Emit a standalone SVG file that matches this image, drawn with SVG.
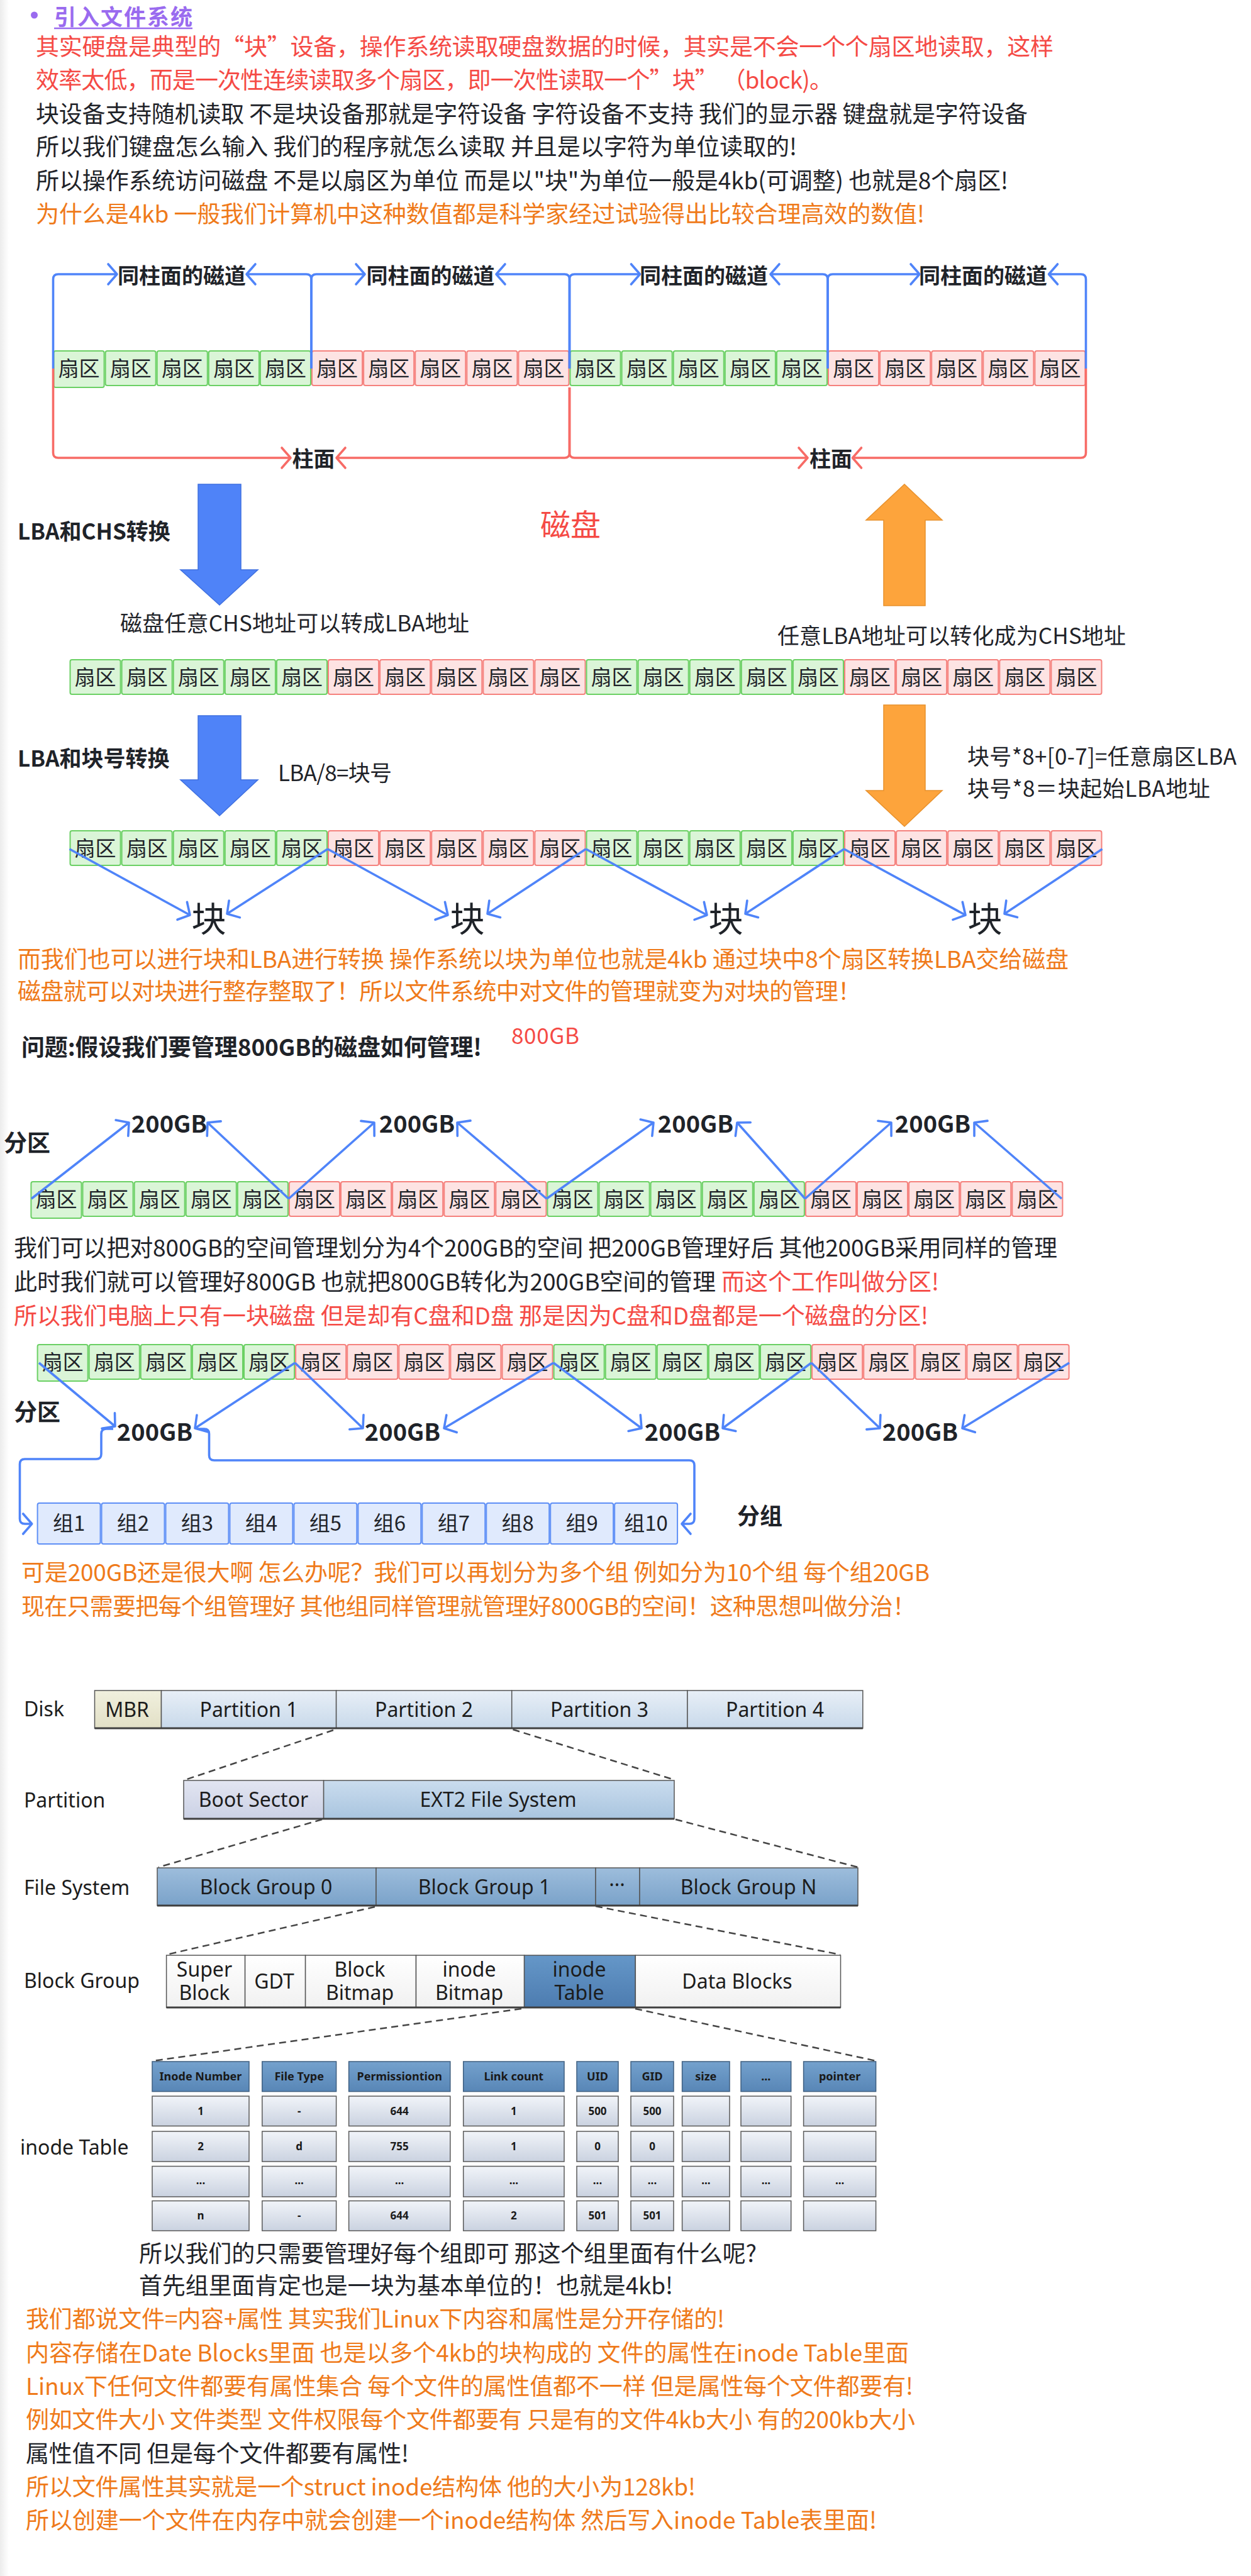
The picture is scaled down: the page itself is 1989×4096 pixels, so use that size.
<svg xmlns="http://www.w3.org/2000/svg" width="1989" height="4096" viewBox="0 0 1989 4096">
<defs>
<style>
.t{font-family:"Noto Sans CJK SC","Noto Sans",sans-serif}
.b37{font-size:37px}
.red{fill:#f54a45}.blk{fill:#1f2329}.org{fill:#ef7a1a}.pur{fill:#9a6bef}
.bold{font-weight:bold}
.sc{font-family:"Noto Sans CJK SC",sans-serif;font-size:33px;text-anchor:middle;fill:#1f2329}
.cg{fill:#daf5d7;stroke:#6bd064;stroke-width:2}
.cr{fill:#fde3e3;stroke:#f5817d;stroke-width:2}
.cbx{fill:#e0eafd;stroke:#5e8ff6;stroke-width:2}
.bl{fill:none;stroke:#4f84f9;stroke-width:3.6;stroke-linejoin:round}
.rl{fill:none;stroke:#f76b66;stroke-width:3.6;stroke-linejoin:round}
.en{font-family:"Noto Sans","Open Sans",sans-serif;font-size:32px;fill:#1c1c1c}
.ec{text-anchor:middle}
.bx{stroke:#555;stroke-width:1.5}
.dash{fill:none;stroke:#444;stroke-width:2.5;stroke-dasharray:11 7}
.th{font-family:"Noto Sans","Open Sans",sans-serif;font-size:18px;font-weight:bold;fill:#1a1a1a;text-anchor:middle}
.tv{font-family:"Noto Sans","Open Sans",sans-serif;font-size:17px;font-weight:bold;fill:#1a1a1a;text-anchor:middle}
.hc{fill:url(#gHead);stroke:#3f5f80;stroke-width:1.5}
.vc{fill:url(#gCell);stroke:#5a5a5a;stroke-width:1.5}
</style>
<marker id="mb" viewBox="-18 -20 24 40" markerWidth="24" markerHeight="40" refX="0" refY="0" orient="auto" markerUnits="userSpaceOnUse" overflow="visible"><path d="M-14,-16 L0,0 L-14,16" fill="none" stroke="#4f84f9" stroke-width="3.6" stroke-linecap="round" stroke-linejoin="round"/></marker>
<marker id="mr" viewBox="-18 -20 24 40" markerWidth="24" markerHeight="40" refX="0" refY="0" orient="auto" markerUnits="userSpaceOnUse" overflow="visible"><path d="M-14,-16 L0,0 L-14,16" fill="none" stroke="#f76b66" stroke-width="3.6" stroke-linecap="round" stroke-linejoin="round"/></marker>
<linearGradient id="gLeft" x1="0" x2="1" y1="0" y2="0"><stop offset="0" stop-color="#ececec"/><stop offset="1" stop-color="#ffffff"/></linearGradient>
<linearGradient id="gDisk" x1="0" x2="0" y1="0" y2="1"><stop offset="0" stop-color="#e8eff7"/><stop offset="1" stop-color="#c8d9ea"/></linearGradient>
<linearGradient id="gMBR" x1="0" x2="0" y1="0" y2="1"><stop offset="0" stop-color="#f1f0de"/><stop offset="1" stop-color="#e2e0c6"/></linearGradient>
<linearGradient id="gBoot" x1="0" x2="0" y1="0" y2="1"><stop offset="0" stop-color="#e2e5f1"/><stop offset="1" stop-color="#cbd1e5"/></linearGradient>
<linearGradient id="gExt" x1="0" x2="0" y1="0" y2="1"><stop offset="0" stop-color="#cadcee"/><stop offset="1" stop-color="#a9c5df"/></linearGradient>
<linearGradient id="gFS" x1="0" x2="0" y1="0" y2="1"><stop offset="0" stop-color="#9dbddc"/><stop offset="1" stop-color="#7aa2c9"/></linearGradient>
<linearGradient id="gWhite" x1="0" x2="0" y1="0" y2="1"><stop offset="0" stop-color="#ffffff"/><stop offset="1" stop-color="#f1f1f1"/></linearGradient>
<linearGradient id="gIT" x1="0" x2="0" y1="0" y2="1"><stop offset="0" stop-color="#6597c8"/><stop offset="1" stop-color="#4d7cb0"/></linearGradient>
<linearGradient id="gHead" x1="0" x2="0" y1="0" y2="1"><stop offset="0" stop-color="#74a1cd"/><stop offset="1" stop-color="#5886b6"/></linearGradient>
<linearGradient id="gCell" x1="0" x2="0" y1="0" y2="1"><stop offset="0" stop-color="#f1f4f9"/><stop offset="1" stop-color="#cad2e0"/></linearGradient>
</defs>
<rect x="0" y="0" width="1989" height="4096" fill="#ffffff"/>
<rect x="0" y="0" width="14" height="4096" fill="url(#gLeft)"/>

<g id="intro-text">
<circle cx="54.5" cy="24" r="5.5" fill="#9a6bef"/>
<text class="t pur bold" x="86" y="40" font-size="35" textLength="220" lengthAdjust="spacing">引入文件系统</text>
<line x1="86" y1="45" x2="306" y2="45" stroke="#9a6bef" stroke-width="2.5"/>
<text class="t b37 red" x="57" y="88" textLength="1618" lengthAdjust="spacing">其实硬盘是典型的“块”设备，操作系统读取硬盘数据的时候，其实是不会一个个扇区地读取，这样</text>
<text class="t b37 red" x="57" y="141" textLength="1267" lengthAdjust="spacing">效率太低，而是一次性连续读取多个扇区，即一次性读取一个”块” （block)。</text>
<text class="t b37 blk" x="57" y="194.5" textLength="1577" lengthAdjust="spacing">块设备支持随机读取 不是块设备那就是字符设备 字符设备不支持 我们的显示器 键盘就是字符设备</text>
<text class="t b37 blk" x="57" y="247" textLength="1210" lengthAdjust="spacing">所以我们键盘怎么输入 我们的程序就怎么读取 并且是以字符为单位读取的!</text>
<text class="t b37 blk" x="57" y="300.5" textLength="1546" lengthAdjust="spacing">所以操作系统访问磁盘 不是以扇区为单位 而是以"块"为单位一般是4kb(可调整) 也就是8个扇区!</text>
<text class="t b37 org" x="57" y="354" textLength="1413" lengthAdjust="spacing">为什么是4kb 一般我们计算机中这种数值都是科学家经过试验得出比较合理高效的数值!</text>
</g>

<g id="sector-row-1" transform="translate(84.5,558)">
<rect class="cg" x="1" y="0" width="80.1" height="58" rx="3"/><text class="sc" x="41.1" y="40">扇区</text>
<rect class="cg" x="83.1" y="0" width="80.1" height="55" rx="3"/><text class="sc" x="123.2" y="40">扇区</text>
<rect class="cg" x="165.2" y="0" width="80.1" height="55" rx="3"/><text class="sc" x="205.3" y="40">扇区</text>
<rect class="cg" x="247.3" y="0" width="80.1" height="55" rx="3"/><text class="sc" x="287.4" y="40">扇区</text>
<rect class="cg" x="329.4" y="0" width="80.1" height="55" rx="3"/><text class="sc" x="369.5" y="40">扇区</text>
<rect class="cr" x="411.5" y="0" width="80.1" height="55" rx="3"/><text class="sc" x="451.6" y="40">扇区</text>
<rect class="cr" x="493.6" y="0" width="80.1" height="55" rx="3"/><text class="sc" x="533.7" y="40">扇区</text>
<rect class="cr" x="575.7" y="0" width="80.1" height="55" rx="3"/><text class="sc" x="615.8" y="40">扇区</text>
<rect class="cr" x="657.8" y="0" width="80.1" height="55" rx="3"/><text class="sc" x="697.9" y="40">扇区</text>
<rect class="cr" x="739.9" y="0" width="80.1" height="55" rx="3"/><text class="sc" x="780" y="40">扇区</text>
<rect class="cg" x="822" y="0" width="80.1" height="55" rx="3"/><text class="sc" x="862.1" y="40">扇区</text>
<rect class="cg" x="904.1" y="0" width="80.1" height="55" rx="3"/><text class="sc" x="944.2" y="40">扇区</text>
<rect class="cg" x="986.2" y="0" width="80.1" height="55" rx="3"/><text class="sc" x="1026.3" y="40">扇区</text>
<rect class="cg" x="1068.3" y="0" width="80.1" height="55" rx="3"/><text class="sc" x="1108.4" y="40">扇区</text>
<rect class="cg" x="1150.4" y="0" width="80.1" height="55" rx="3"/><text class="sc" x="1190.5" y="40">扇区</text>
<rect class="cr" x="1232.5" y="0" width="80.1" height="55" rx="3"/><text class="sc" x="1272.6" y="40">扇区</text>
<rect class="cr" x="1314.6" y="0" width="80.1" height="55" rx="3"/><text class="sc" x="1354.7" y="40">扇区</text>
<rect class="cr" x="1396.7" y="0" width="80.1" height="55" rx="3"/><text class="sc" x="1436.8" y="40">扇区</text>
<rect class="cr" x="1478.8" y="0" width="80.1" height="55" rx="3"/><text class="sc" x="1518.9" y="40">扇区</text>
<rect class="cr" x="1560.9" y="0" width="80.1" height="55" rx="3"/><text class="sc" x="1601" y="40">扇区</text>
</g>

<g id="bracket-labels">
<text class="t bold blk" font-size="34" text-anchor="middle" x="289" y="451">同柱面的磁道</text>
<text class="t bold blk" font-size="34" text-anchor="middle" x="684.5" y="451">同柱面的磁道</text>
<text class="t bold blk" font-size="34" text-anchor="middle" x="1119" y="451">同柱面的磁道</text>
<text class="t bold blk" font-size="34" text-anchor="middle" x="1563" y="451">同柱面的磁道</text>
<text class="t bold blk" font-size="34" text-anchor="middle" x="498.5" y="742">柱面</text>
<text class="t bold blk" font-size="34" text-anchor="middle" x="1321" y="742">柱面</text>
</g>

<g id="lba-chs">
<text class="t bold blk" font-size="35" x="28" y="858">LBA和CHS转换</text>
<polygon points="315,770 383,770 383,906 410,906 349,962 287,906 315,906" fill="#4f83f8" stroke="#3f70e0" stroke-width="1.5"/>
<text class="t red" font-size="48" x="859" y="852">磁盘</text>
<polygon points="1438,770 1498,827 1471,827 1471,963 1405,963 1405,827 1377,827" fill="#fda43c" stroke="#e8912c" stroke-width="1.5"/>
<text class="t blk" font-size="35" x="191" y="1004" textLength="555" lengthAdjust="spacing">磁盘任意CHS地址可以转成LBA地址</text>
<text class="t blk" font-size="35" x="1236" y="1024" textLength="554" lengthAdjust="spacing">任意LBA地址可以转化成为CHS地址</text>
</g>

<g id="sector-row-2" transform="translate(110.5,1049)">
<rect class="cg" x="1" y="0" width="80.1" height="55" rx="3"/><text class="sc" x="41.1" y="40">扇区</text>
<rect class="cg" x="83.1" y="0" width="80.1" height="55" rx="3"/><text class="sc" x="123.2" y="40">扇区</text>
<rect class="cg" x="165.2" y="0" width="80.1" height="55" rx="3"/><text class="sc" x="205.3" y="40">扇区</text>
<rect class="cg" x="247.3" y="0" width="80.1" height="55" rx="3"/><text class="sc" x="287.4" y="40">扇区</text>
<rect class="cg" x="329.4" y="0" width="80.1" height="55" rx="3"/><text class="sc" x="369.5" y="40">扇区</text>
<rect class="cr" x="411.5" y="0" width="80.1" height="55" rx="3"/><text class="sc" x="451.6" y="40">扇区</text>
<rect class="cr" x="493.6" y="0" width="80.1" height="55" rx="3"/><text class="sc" x="533.7" y="40">扇区</text>
<rect class="cr" x="575.7" y="0" width="80.1" height="55" rx="3"/><text class="sc" x="615.8" y="40">扇区</text>
<rect class="cr" x="657.8" y="0" width="80.1" height="55" rx="3"/><text class="sc" x="697.9" y="40">扇区</text>
<rect class="cr" x="739.9" y="0" width="80.1" height="55" rx="3"/><text class="sc" x="780" y="40">扇区</text>
<rect class="cg" x="822" y="0" width="80.1" height="55" rx="3"/><text class="sc" x="862.1" y="40">扇区</text>
<rect class="cg" x="904.1" y="0" width="80.1" height="55" rx="3"/><text class="sc" x="944.2" y="40">扇区</text>
<rect class="cg" x="986.2" y="0" width="80.1" height="55" rx="3"/><text class="sc" x="1026.3" y="40">扇区</text>
<rect class="cg" x="1068.3" y="0" width="80.1" height="55" rx="3"/><text class="sc" x="1108.4" y="40">扇区</text>
<rect class="cg" x="1150.4" y="0" width="80.1" height="55" rx="3"/><text class="sc" x="1190.5" y="40">扇区</text>
<rect class="cr" x="1232.5" y="0" width="80.1" height="55" rx="3"/><text class="sc" x="1272.6" y="40">扇区</text>
<rect class="cr" x="1314.6" y="0" width="80.1" height="55" rx="3"/><text class="sc" x="1354.7" y="40">扇区</text>
<rect class="cr" x="1396.7" y="0" width="80.1" height="55" rx="3"/><text class="sc" x="1436.8" y="40">扇区</text>
<rect class="cr" x="1478.8" y="0" width="80.1" height="55" rx="3"/><text class="sc" x="1518.9" y="40">扇区</text>
<rect class="cr" x="1560.9" y="0" width="80.1" height="55" rx="3"/><text class="sc" x="1601" y="40">扇区</text>
</g>

<g id="lba-block">
<text class="t bold blk" font-size="35" x="28" y="1219">LBA和块号转换</text>
<polygon points="315,1138 383,1138 383,1240 410,1240 349,1297 287,1240 315,1240" fill="#4f83f8" stroke="#3f70e0" stroke-width="1.5"/>
<text class="t blk" font-size="35" x="442" y="1242" textLength="181" lengthAdjust="spacing">LBA/8=块号</text>
<polygon points="1405,1121 1471,1121 1471,1257 1498,1257 1438,1314 1377,1257 1405,1257" fill="#fda43c" stroke="#e8912c" stroke-width="1.5"/>
<text class="t blk" font-size="35" x="1538" y="1216" textLength="428" lengthAdjust="spacing">块号*8+[0-7]=任意扇区LBA</text>
<text class="t blk" font-size="35" x="1538" y="1267" textLength="386" lengthAdjust="spacing">块号*8＝块起始LBA地址</text>
</g>

<g id="sector-row-3" transform="translate(110.5,1321)">
<rect class="cg" x="1" y="0" width="80.1" height="55" rx="3"/><text class="sc" x="41.1" y="40">扇区</text>
<rect class="cg" x="83.1" y="0" width="80.1" height="55" rx="3"/><text class="sc" x="123.2" y="40">扇区</text>
<rect class="cg" x="165.2" y="0" width="80.1" height="55" rx="3"/><text class="sc" x="205.3" y="40">扇区</text>
<rect class="cg" x="247.3" y="0" width="80.1" height="55" rx="3"/><text class="sc" x="287.4" y="40">扇区</text>
<rect class="cg" x="329.4" y="0" width="80.1" height="55" rx="3"/><text class="sc" x="369.5" y="40">扇区</text>
<rect class="cr" x="411.5" y="0" width="80.1" height="55" rx="3"/><text class="sc" x="451.6" y="40">扇区</text>
<rect class="cr" x="493.6" y="0" width="80.1" height="55" rx="3"/><text class="sc" x="533.7" y="40">扇区</text>
<rect class="cr" x="575.7" y="0" width="80.1" height="55" rx="3"/><text class="sc" x="615.8" y="40">扇区</text>
<rect class="cr" x="657.8" y="0" width="80.1" height="55" rx="3"/><text class="sc" x="697.9" y="40">扇区</text>
<rect class="cr" x="739.9" y="0" width="80.1" height="55" rx="3"/><text class="sc" x="780" y="40">扇区</text>
<rect class="cg" x="822" y="0" width="80.1" height="55" rx="3"/><text class="sc" x="862.1" y="40">扇区</text>
<rect class="cg" x="904.1" y="0" width="80.1" height="55" rx="3"/><text class="sc" x="944.2" y="40">扇区</text>
<rect class="cg" x="986.2" y="0" width="80.1" height="55" rx="3"/><text class="sc" x="1026.3" y="40">扇区</text>
<rect class="cg" x="1068.3" y="0" width="80.1" height="55" rx="3"/><text class="sc" x="1108.4" y="40">扇区</text>
<rect class="cg" x="1150.4" y="0" width="80.1" height="55" rx="3"/><text class="sc" x="1190.5" y="40">扇区</text>
<rect class="cr" x="1232.5" y="0" width="80.1" height="55" rx="3"/><text class="sc" x="1272.6" y="40">扇区</text>
<rect class="cr" x="1314.6" y="0" width="80.1" height="55" rx="3"/><text class="sc" x="1354.7" y="40">扇区</text>
<rect class="cr" x="1396.7" y="0" width="80.1" height="55" rx="3"/><text class="sc" x="1436.8" y="40">扇区</text>
<rect class="cr" x="1478.8" y="0" width="80.1" height="55" rx="3"/><text class="sc" x="1518.9" y="40">扇区</text>
<rect class="cr" x="1560.9" y="0" width="80.1" height="55" rx="3"/><text class="sc" x="1601" y="40">扇区</text>
</g>

<g id="blocks">
<text class="t blk" font-size="55" text-anchor="middle" x="332" y="1481">块</text>
<text class="t blk" font-size="55" text-anchor="middle" x="743" y="1481">块</text>
<text class="t blk" font-size="55" text-anchor="middle" x="1154" y="1481">块</text>
<text class="t blk" font-size="55" text-anchor="middle" x="1566" y="1481">块</text>
</g>

<g id="block-text">
<text class="t b37 org" x="28" y="1539" textLength="1671" lengthAdjust="spacing">而我们也可以进行块和LBA进行转换 操作系统以块为单位也就是4kb 通过块中8个扇区转换LBA交给磁盘</text>
<text class="t b37 org" x="28" y="1590" textLength="1341" lengthAdjust="spacing">磁盘就可以对块进行整存整取了！所以文件系统中对文件的管理就变为对块的管理！</text>
<text class="t bold blk" font-size="37" x="34" y="1679" textLength="732" lengthAdjust="spacing">问题:假设我们要管理800GB的磁盘如何管理!</text>
<text class="t red" font-size="35" x="813" y="1660" textLength="108" lengthAdjust="spacing">800GB</text>
</g>

<g id="partition-labels-1">
<text class="t bold blk" font-size="38" text-anchor="middle" x="269" y="1801">200GB</text>
<text class="t bold blk" font-size="38" text-anchor="middle" x="663" y="1801">200GB</text>
<text class="t bold blk" font-size="38" text-anchor="middle" x="1106" y="1801">200GB</text>
<text class="t bold blk" font-size="38" text-anchor="middle" x="1483" y="1801">200GB</text>
<text class="t bold blk" font-size="37" x="6" y="1831">分区</text>
</g>

<g id="sector-row-4" transform="translate(48.4,1879)">
<rect class="cg" x="1" y="0" width="80.1" height="58" rx="3"/><text class="sc" x="41.1" y="40">扇区</text>
<rect class="cg" x="83.1" y="0" width="80.1" height="55" rx="3"/><text class="sc" x="123.2" y="40">扇区</text>
<rect class="cg" x="165.2" y="0" width="80.1" height="55" rx="3"/><text class="sc" x="205.3" y="40">扇区</text>
<rect class="cg" x="247.3" y="0" width="80.1" height="55" rx="3"/><text class="sc" x="287.4" y="40">扇区</text>
<rect class="cg" x="329.4" y="0" width="80.1" height="55" rx="3"/><text class="sc" x="369.5" y="40">扇区</text>
<rect class="cr" x="411.5" y="0" width="80.1" height="55" rx="3"/><text class="sc" x="451.6" y="40">扇区</text>
<rect class="cr" x="493.6" y="0" width="80.1" height="55" rx="3"/><text class="sc" x="533.7" y="40">扇区</text>
<rect class="cr" x="575.7" y="0" width="80.1" height="55" rx="3"/><text class="sc" x="615.8" y="40">扇区</text>
<rect class="cr" x="657.8" y="0" width="80.1" height="55" rx="3"/><text class="sc" x="697.9" y="40">扇区</text>
<rect class="cr" x="739.9" y="0" width="80.1" height="55" rx="3"/><text class="sc" x="780" y="40">扇区</text>
<rect class="cg" x="822" y="0" width="80.1" height="55" rx="3"/><text class="sc" x="862.1" y="40">扇区</text>
<rect class="cg" x="904.1" y="0" width="80.1" height="55" rx="3"/><text class="sc" x="944.2" y="40">扇区</text>
<rect class="cg" x="986.2" y="0" width="80.1" height="55" rx="3"/><text class="sc" x="1026.3" y="40">扇区</text>
<rect class="cg" x="1068.3" y="0" width="80.1" height="55" rx="3"/><text class="sc" x="1108.4" y="40">扇区</text>
<rect class="cg" x="1150.4" y="0" width="80.1" height="55" rx="3"/><text class="sc" x="1190.5" y="40">扇区</text>
<rect class="cr" x="1232.5" y="0" width="80.1" height="55" rx="3"/><text class="sc" x="1272.6" y="40">扇区</text>
<rect class="cr" x="1314.6" y="0" width="80.1" height="55" rx="3"/><text class="sc" x="1354.7" y="40">扇区</text>
<rect class="cr" x="1396.7" y="0" width="80.1" height="55" rx="3"/><text class="sc" x="1436.8" y="40">扇区</text>
<rect class="cr" x="1478.8" y="0" width="80.1" height="55" rx="3"/><text class="sc" x="1518.9" y="40">扇区</text>
<rect class="cr" x="1560.9" y="0" width="80.1" height="55" rx="3"/><text class="sc" x="1601" y="40">扇区</text>
</g>

<g id="partition-text">
<text class="t b37 blk" x="22" y="1998" textLength="1659" lengthAdjust="spacing">我们可以把对800GB的空间管理划分为4个200GB的空间 把200GB管理好后 其他200GB采用同样的管理</text>
<text class="t b37 blk" x="22" y="2052" textLength="1116" lengthAdjust="spacing">此时我们就可以管理好800GB 也就把800GB转化为200GB空间的管理</text>
<text class="t b37 red" x="1147" y="2052" textLength="346" lengthAdjust="spacing">而这个工作叫做分区!</text>
<text class="t b37 red" x="22" y="2106" textLength="1454" lengthAdjust="spacing">所以我们电脑上只有一块磁盘 但是却有C盘和D盘 那是因为C盘和D盘都是一个磁盘的分区!</text>
</g>

<g id="sector-row-5" transform="translate(58.6,2138)">
<rect class="cg" x="1" y="0" width="80.1" height="58" rx="3"/><text class="sc" x="41.1" y="40">扇区</text>
<rect class="cg" x="83.1" y="0" width="80.1" height="55" rx="3"/><text class="sc" x="123.2" y="40">扇区</text>
<rect class="cg" x="165.2" y="0" width="80.1" height="55" rx="3"/><text class="sc" x="205.3" y="40">扇区</text>
<rect class="cg" x="247.3" y="0" width="80.1" height="55" rx="3"/><text class="sc" x="287.4" y="40">扇区</text>
<rect class="cg" x="329.4" y="0" width="80.1" height="55" rx="3"/><text class="sc" x="369.5" y="40">扇区</text>
<rect class="cr" x="411.5" y="0" width="80.1" height="55" rx="3"/><text class="sc" x="451.6" y="40">扇区</text>
<rect class="cr" x="493.6" y="0" width="80.1" height="55" rx="3"/><text class="sc" x="533.7" y="40">扇区</text>
<rect class="cr" x="575.7" y="0" width="80.1" height="55" rx="3"/><text class="sc" x="615.8" y="40">扇区</text>
<rect class="cr" x="657.8" y="0" width="80.1" height="55" rx="3"/><text class="sc" x="697.9" y="40">扇区</text>
<rect class="cr" x="739.9" y="0" width="80.1" height="55" rx="3"/><text class="sc" x="780" y="40">扇区</text>
<rect class="cg" x="822" y="0" width="80.1" height="55" rx="3"/><text class="sc" x="862.1" y="40">扇区</text>
<rect class="cg" x="904.1" y="0" width="80.1" height="55" rx="3"/><text class="sc" x="944.2" y="40">扇区</text>
<rect class="cg" x="986.2" y="0" width="80.1" height="55" rx="3"/><text class="sc" x="1026.3" y="40">扇区</text>
<rect class="cg" x="1068.3" y="0" width="80.1" height="55" rx="3"/><text class="sc" x="1108.4" y="40">扇区</text>
<rect class="cg" x="1150.4" y="0" width="80.1" height="55" rx="3"/><text class="sc" x="1190.5" y="40">扇区</text>
<rect class="cr" x="1232.5" y="0" width="80.1" height="55" rx="3"/><text class="sc" x="1272.6" y="40">扇区</text>
<rect class="cr" x="1314.6" y="0" width="80.1" height="55" rx="3"/><text class="sc" x="1354.7" y="40">扇区</text>
<rect class="cr" x="1396.7" y="0" width="80.1" height="55" rx="3"/><text class="sc" x="1436.8" y="40">扇区</text>
<rect class="cr" x="1478.8" y="0" width="80.1" height="55" rx="3"/><text class="sc" x="1518.9" y="40">扇区</text>
<rect class="cr" x="1560.9" y="0" width="80.1" height="55" rx="3"/><text class="sc" x="1601" y="40">扇区</text>
</g>

<g id="partition-labels-2">
<text class="t bold blk" font-size="38" text-anchor="middle" x="246" y="2291">200GB</text>
<text class="t bold blk" font-size="38" text-anchor="middle" x="640" y="2291">200GB</text>
<text class="t bold blk" font-size="38" text-anchor="middle" x="1085" y="2291">200GB</text>
<text class="t bold blk" font-size="38" text-anchor="middle" x="1463" y="2291">200GB</text>
<text class="t bold blk" font-size="37" x="22" y="2259">分区</text>
</g>

<g id="group-row">
<rect class="cbx" x="59.6" y="2390" width="99.95" height="65" rx="3"/><text class="sc" font-size="34" x="109.6" y="2434">组1</text>
<rect class="cbx" x="161.55" y="2390" width="99.95" height="65" rx="3"/><text class="sc" font-size="34" x="211.5" y="2434">组2</text>
<rect class="cbx" x="263.5" y="2390" width="99.95" height="65" rx="3"/><text class="sc" font-size="34" x="313.5" y="2434">组3</text>
<rect class="cbx" x="365.45" y="2390" width="99.95" height="65" rx="3"/><text class="sc" font-size="34" x="415.4" y="2434">组4</text>
<rect class="cbx" x="467.4" y="2390" width="99.95" height="65" rx="3"/><text class="sc" font-size="34" x="517.4" y="2434">组5</text>
<rect class="cbx" x="569.35" y="2390" width="99.95" height="65" rx="3"/><text class="sc" font-size="34" x="619.3" y="2434">组6</text>
<rect class="cbx" x="671.3" y="2390" width="99.95" height="65" rx="3"/><text class="sc" font-size="34" x="721.3" y="2434">组7</text>
<rect class="cbx" x="773.25" y="2390" width="99.95" height="65" rx="3"/><text class="sc" font-size="34" x="823.2" y="2434">组8</text>
<rect class="cbx" x="875.2" y="2390" width="99.95" height="65" rx="3"/><text class="sc" font-size="34" x="925.2" y="2434">组9</text>
<rect class="cbx" x="977.15" y="2390" width="99.95" height="65" rx="3"/><text class="sc" font-size="34" x="1027.1" y="2434">组10</text>
<text class="t bold blk" font-size="36" x="1172" y="2424">分组</text>
</g>

<g id="group-text">
<text class="t b37 org" x="34" y="2514" textLength="1444" lengthAdjust="spacing">可是200GB还是很大啊 怎么办呢？我们可以再划分为多个组 例如分为10个组 每个组20GB</text>
<text class="t b37 org" x="34" y="2568" textLength="1422" lengthAdjust="spacing">现在只需要把每个组管理好 其他组同样管理就管理好800GB的空间！这种思想叫做分治！</text>
</g>

<g id="ext2-disk">
<text class="en" x="38" y="2729">Disk</text>
<rect class="bx" x="150.5" y="2688" width="106" height="60" fill="url(#gMBR)"/>
<rect class="bx" x="256.5" y="2688" width="278.1" height="60" fill="url(#gDisk)"/>
<rect class="bx" x="534.6" y="2688" width="279.1" height="60" fill="url(#gDisk)"/>
<rect class="bx" x="813.7" y="2688" width="279.2" height="60" fill="url(#gDisk)"/>
<rect class="bx" x="1092.9" y="2688" width="278.9" height="60" fill="url(#gDisk)"/>
<line x1="150.5" y1="2748" x2="1371.8" y2="2748" stroke="#3f3f3f" stroke-width="3"/>
<text class="en ec" x="202" y="2730">MBR</text>
<text class="en ec" x="395.5" y="2730">Partition 1</text>
<text class="en ec" x="674" y="2730">Partition 2</text>
<text class="en ec" x="953" y="2730">Partition 3</text>
<text class="en ec" x="1232" y="2730">Partition 4</text>
</g>

<g id="ext2-partition">
<text class="en" x="38" y="2874">Partition</text>
<rect class="bx" x="292" y="2831" width="222.6" height="61" fill="url(#gBoot)"/>
<rect class="bx" x="514.6" y="2831" width="557.4" height="61" fill="url(#gExt)"/>
<line x1="292" y1="2892" x2="1072" y2="2892" stroke="#3f3f3f" stroke-width="3"/>
<text class="en ec" x="403" y="2873">Boot Sector</text>
<text class="en ec" x="792" y="2873">EXT2 File System</text>
</g>

<g id="ext2-filesystem">
<text class="en" x="38" y="3013">File System</text>
<rect class="bx" x="250" y="2970" width="348" height="60" fill="url(#gFS)"/>
<rect class="bx" x="598" y="2970" width="349" height="60" fill="url(#gFS)"/>
<rect class="bx" x="947" y="2970" width="70" height="60" fill="url(#gFS)"/>
<rect class="bx" x="1017" y="2970" width="347" height="60" fill="url(#gFS)"/>
<line x1="250" y1="3030" x2="1364" y2="3030" stroke="#3f3f3f" stroke-width="3"/>
<text class="en ec" x="423" y="3012">Block Group 0</text>
<text class="en ec" x="770" y="3012">Block Group 1</text>
<text class="en ec" x="981" y="3008">···</text>
<text class="en ec" x="1190" y="3012">Block Group N</text>
</g>

<g id="ext2-blockgroup">
<text class="en" x="38" y="3161">Block Group</text>
<rect class="bx" x="264.6" y="3109" width="125" height="83" fill="url(#gWhite)"/>
<rect class="bx" x="389.6" y="3109" width="96" height="83" fill="url(#gWhite)"/>
<rect class="bx" x="485.6" y="3109" width="175.9" height="83" fill="url(#gWhite)"/>
<rect class="bx" x="661.5" y="3109" width="172.1" height="83" fill="url(#gWhite)"/>
<rect class="bx" x="833.6" y="3109" width="176.7" height="83" fill="url(#gIT)"/>
<rect class="bx" x="1010.3" y="3109" width="326.2" height="83" fill="url(#gWhite)"/>
<line x1="264.6" y1="3192" x2="1336.5" y2="3192" stroke="#3f3f3f" stroke-width="3"/>
<text class="en ec" x="325" y="3143">Super</text><text class="en ec" x="325" y="3180">Block</text>
<text class="en ec" x="436" y="3162">GDT</text>
<text class="en ec" x="572" y="3143">Block</text><text class="en ec" x="572" y="3180">Bitmap</text>
<text class="en ec" x="746" y="3143">inode</text><text class="en ec" x="746" y="3180">Bitmap</text>
<text class="en ec" x="921" y="3143">inode</text><text class="en ec" x="921" y="3180">Table</text>
<text class="en ec" x="1172" y="3162">Data Blocks</text>
</g>

<g id="inode-table">
<text class="en" x="32" y="3426">inode Table</text>
<rect class="hc" x="242" y="3278" width="154" height="47.6"/>
<rect class="hc" x="416.8" y="3278" width="117.8" height="47.6"/>
<rect class="hc" x="554.6" y="3278" width="161.2" height="47.6"/>
<rect class="hc" x="736.7" y="3278" width="160.3" height="47.6"/>
<rect class="hc" x="917" y="3278" width="66" height="47.6"/>
<rect class="hc" x="1003" y="3278" width="68" height="47.6"/>
<rect class="hc" x="1084.6" y="3278" width="75.4" height="47.6"/>
<rect class="hc" x="1178" y="3278" width="79.7" height="47.6"/>
<rect class="hc" x="1277.6" y="3278" width="115" height="47.6"/>
<text class="th" x="319" y="3308">Inode Number</text>
<text class="th" x="475.7" y="3308">File Type</text>
<text class="th" x="635.2" y="3308">Permissiontion</text>
<text class="th" x="816.8" y="3308">Link count</text>
<text class="th" x="950" y="3308">UID</text>
<text class="th" x="1037" y="3308">GID</text>
<text class="th" x="1122.3" y="3308">size</text>
<text class="th" x="1217.8" y="3308">...</text>
<text class="th" x="1335.1" y="3308">pointer</text>

<rect class="vc" x="242" y="3333" width="154" height="47.5"/>
<rect class="vc" x="416.8" y="3333" width="117.8" height="47.5"/>
<rect class="vc" x="554.6" y="3333" width="161.2" height="47.5"/>
<rect class="vc" x="736.7" y="3333" width="160.3" height="47.5"/>
<rect class="vc" x="917" y="3333" width="66" height="47.5"/>
<rect class="vc" x="1003" y="3333" width="68" height="47.5"/>
<rect class="vc" x="1084.6" y="3333" width="75.4" height="47.5"/>
<rect class="vc" x="1178" y="3333" width="79.7" height="47.5"/>
<rect class="vc" x="1277.6" y="3333" width="115" height="47.5"/>
<text class="tv" x="319" y="3363">1</text>
<text class="tv" x="475.7" y="3363">-</text>
<text class="tv" x="635.2" y="3363">644</text>
<text class="tv" x="816.8" y="3363">1</text>
<text class="tv" x="950" y="3363">500</text>
<text class="tv" x="1037" y="3363">500</text>

<rect class="vc" x="242" y="3389" width="154" height="48"/>
<rect class="vc" x="416.8" y="3389" width="117.8" height="48"/>
<rect class="vc" x="554.6" y="3389" width="161.2" height="48"/>
<rect class="vc" x="736.7" y="3389" width="160.3" height="48"/>
<rect class="vc" x="917" y="3389" width="66" height="48"/>
<rect class="vc" x="1003" y="3389" width="68" height="48"/>
<rect class="vc" x="1084.6" y="3389" width="75.4" height="48"/>
<rect class="vc" x="1178" y="3389" width="79.7" height="48"/>
<rect class="vc" x="1277.6" y="3389" width="115" height="48"/>
<text class="tv" x="319" y="3419">2</text>
<text class="tv" x="475.7" y="3419">d</text>
<text class="tv" x="635.2" y="3419">755</text>
<text class="tv" x="816.8" y="3419">1</text>
<text class="tv" x="950" y="3419">0</text>
<text class="tv" x="1037" y="3419">0</text>

<rect class="vc" x="242" y="3444.5" width="154" height="48.5"/>
<rect class="vc" x="416.8" y="3444.5" width="117.8" height="48.5"/>
<rect class="vc" x="554.6" y="3444.5" width="161.2" height="48.5"/>
<rect class="vc" x="736.7" y="3444.5" width="160.3" height="48.5"/>
<rect class="vc" x="917" y="3444.5" width="66" height="48.5"/>
<rect class="vc" x="1003" y="3444.5" width="68" height="48.5"/>
<rect class="vc" x="1084.6" y="3444.5" width="75.4" height="48.5"/>
<rect class="vc" x="1178" y="3444.5" width="79.7" height="48.5"/>
<rect class="vc" x="1277.6" y="3444.5" width="115" height="48.5"/>
<text class="tv" font-size="13" x="319" y="3473">...</text>
<text class="tv" font-size="13" x="475.7" y="3473">...</text>
<text class="tv" font-size="13" x="635.2" y="3473">...</text>
<text class="tv" font-size="13" x="816.8" y="3473">...</text>
<text class="tv" font-size="13" x="950" y="3473">...</text>
<text class="tv" font-size="13" x="1037" y="3473">...</text>
<text class="tv" font-size="13" x="1122.3" y="3473">...</text>
<text class="tv" font-size="13" x="1217.8" y="3473">...</text>
<text class="tv" font-size="13" x="1335.1" y="3473">...</text>

<rect class="vc" x="242" y="3499.5" width="154" height="47.5"/>
<rect class="vc" x="416.8" y="3499.5" width="117.8" height="47.5"/>
<rect class="vc" x="554.6" y="3499.5" width="161.2" height="47.5"/>
<rect class="vc" x="736.7" y="3499.5" width="160.3" height="47.5"/>
<rect class="vc" x="917" y="3499.5" width="66" height="47.5"/>
<rect class="vc" x="1003" y="3499.5" width="68" height="47.5"/>
<rect class="vc" x="1084.6" y="3499.5" width="75.4" height="47.5"/>
<rect class="vc" x="1178" y="3499.5" width="79.7" height="47.5"/>
<rect class="vc" x="1277.6" y="3499.5" width="115" height="47.5"/>
<text class="tv" x="319" y="3529">n</text>
<text class="tv" x="475.7" y="3529">-</text>
<text class="tv" x="635.2" y="3529">644</text>
<text class="tv" x="816.8" y="3529">2</text>
<text class="tv" x="950" y="3529">501</text>
<text class="tv" x="1037" y="3529">501</text>
</g>

<g id="closing-text">
<text class="t b37 blk" x="221" y="3597" textLength="982" lengthAdjust="spacing">所以我们的只需要管理好每个组即可 那这个组里面有什么呢?</text>
<text class="t b37 blk" x="221" y="3648" textLength="849" lengthAdjust="spacing">首先组里面肯定也是一块为基本单位的！也就是4kb!</text>
<text class="t b37 org" x="41" y="3701" textLength="1111" lengthAdjust="spacing">我们都说文件=内容+属性 其实我们Linux下内容和属性是分开存储的!</text>
<text class="t b37 org" x="41" y="3755" textLength="1404" lengthAdjust="spacing">内容存储在Date Blocks里面 也是以多个4kb的块构成的 文件的属性在inode Table里面</text>
<text class="t b37 org" x="41" y="3808" textLength="1411" lengthAdjust="spacing">Linux下任何文件都要有属性集合 每个文件的属性值都不一样 但是属性每个文件都要有!</text>
<text class="t b37 org" x="41" y="3861" textLength="1414" lengthAdjust="spacing">例如文件大小 文件类型 文件权限每个文件都要有 只是有的文件4kb大小 有的200kb大小</text>
<text class="t b37 blk" x="41" y="3915" textLength="609" lengthAdjust="spacing">属性值不同 但是每个文件都要有属性!</text>
<text class="t b37 org" x="41" y="3968" textLength="1065" lengthAdjust="spacing">所以文件属性其实就是一个struct inode结构体 他的大小为128kb!</text>
<text class="t b37 org" x="41" y="4021" textLength="1353" lengthAdjust="spacing">所以创建一个文件在内存中就会创建一个inode结构体 然后写入inode Table表里面!</text>
</g>

<g id="connectors">
<path class="bl" marker-end="url(#mb)" d="M84.5,586 L84.5,444 Q84.5,436 92.5,436 L186,436"/>
<path class="bl" marker-end="url(#mb)" d="M495,586 L495,444 Q495,436 487,436 L392,436"/>
<path class="bl" marker-end="url(#mb)" d="M495,586 L495,444 Q495,436 503,436 L580,436"/>
<path class="bl" marker-end="url(#mb)" d="M905.5,586 L905.5,444 Q905.5,436 897.5,436 L789,436"/>
<path class="bl" marker-end="url(#mb)" d="M905.5,586 L905.5,444 Q905.5,436 913.5,436 L1017.5,436"/>
<path class="bl" marker-end="url(#mb)" d="M1316,586 L1316,444 Q1316,436 1308,436 L1225,436"/>
<path class="bl" marker-end="url(#mb)" d="M1316,586 L1316,444 Q1316,436 1324,436 L1462,436"/>
<path class="bl" marker-end="url(#mb)" d="M1726.5,586 L1726.5,444 Q1726.5,436 1718.5,436 L1667.5,436"/>
<path class="rl" marker-end="url(#mr)" d="M84.5,586 L84.5,720 Q84.5,728 92.5,728 L462,728"/>
<path class="rl" marker-end="url(#mr)" d="M905.5,616 L905.5,720 Q905.5,728 897.5,728 L535,728"/>
<path class="rl" marker-end="url(#mr)" d="M905.5,616 L905.5,720 Q905.5,728 913.5,728 L1284,728"/>
<path class="rl" marker-end="url(#mr)" d="M1726.5,586 L1726.5,720 Q1726.5,728 1718.5,728 L1355.5,728"/>

<path class="bl" marker-end="url(#mb)" d="M110.5,1350 L302,1455"/>
<path class="bl" marker-end="url(#mb)" d="M521,1350 L361,1453"/>
<path class="bl" marker-end="url(#mb)" d="M521,1350 L712,1455"/>
<path class="bl" marker-end="url(#mb)" d="M931.5,1350 L775,1453"/>
<path class="bl" marker-end="url(#mb)" d="M931.5,1350 L1124,1455"/>
<path class="bl" marker-end="url(#mb)" d="M1342,1350 L1185,1453"/>
<path class="bl" marker-end="url(#mb)" d="M1342,1350 L1535,1455"/>
<path class="bl" marker-end="url(#mb)" d="M1752.5,1350 L1597,1453"/>

<path class="bl" marker-end="url(#mb)" d="M50,1906 L205,1785"/>
<path class="bl" marker-end="url(#mb)" d="M459,1906 L330,1785"/>
<path class="bl" marker-end="url(#mb)" d="M459,1906 L595,1785"/>
<path class="bl" marker-end="url(#mb)" d="M869,1906 L727,1785"/>
<path class="bl" marker-end="url(#mb)" d="M869,1906 L1039,1785"/>
<path class="bl" marker-end="url(#mb)" d="M1280,1906 L1172,1785"/>
<path class="bl" marker-end="url(#mb)" d="M1280,1906 L1417,1785"/>
<path class="bl" marker-end="url(#mb)" d="M1688,1906 L1549,1785"/>

<path class="bl" marker-end="url(#mb)" d="M62,2167 L183,2268"/>
<path class="bl" marker-end="url(#mb)" d="M469,2167 L310,2271"/>
<path class="bl" marker-end="url(#mb)" d="M469,2167 L577,2271"/>
<path class="bl" marker-end="url(#mb)" d="M880,2167 L706,2271"/>
<path class="bl" marker-end="url(#mb)" d="M880,2167 L1020,2271"/>
<path class="bl" marker-end="url(#mb)" d="M1290,2167 L1149,2271"/>
<path class="bl" marker-end="url(#mb)" d="M1290,2167 L1399,2271"/>
<path class="bl" marker-end="url(#mb)" d="M1700,2167 L1530,2271"/>

<path class="bl" marker-end="url(#mb)" d="M180,2272 L169,2272 Q161,2272 161,2280 L161,2312 Q161,2320 153,2320 L39.5,2320 Q31.5,2320 31.5,2328 L31.5,2415 Q31.5,2423 39.5,2423 L50.7,2423"/>
<path class="bl" marker-end="url(#mb)" d="M313,2272 L324.5,2272 Q332.5,2272 332.5,2280 L332.5,2314 Q332.5,2322 340.5,2322 L1096,2322 Q1104,2322 1104,2330 L1104,2415 Q1104,2423 1096,2423 L1084,2423"/>

<path class="dash" d="M530,2751 L294.5,2830"/>
<path class="dash" d="M815.5,2750 L1072,2830"/>
<path class="dash" d="M512,2893 L252,2969"/>
<path class="dash" d="M1074,2893 L1364,2969"/>
<path class="dash" d="M596,3032 L264.6,3108"/>
<path class="dash" d="M947,3031 L1336,3108"/>
<path class="dash" d="M829,3194 L243,3277"/>
<path class="dash" d="M1010,3194 L1393,3277"/>
</g>
</svg>
